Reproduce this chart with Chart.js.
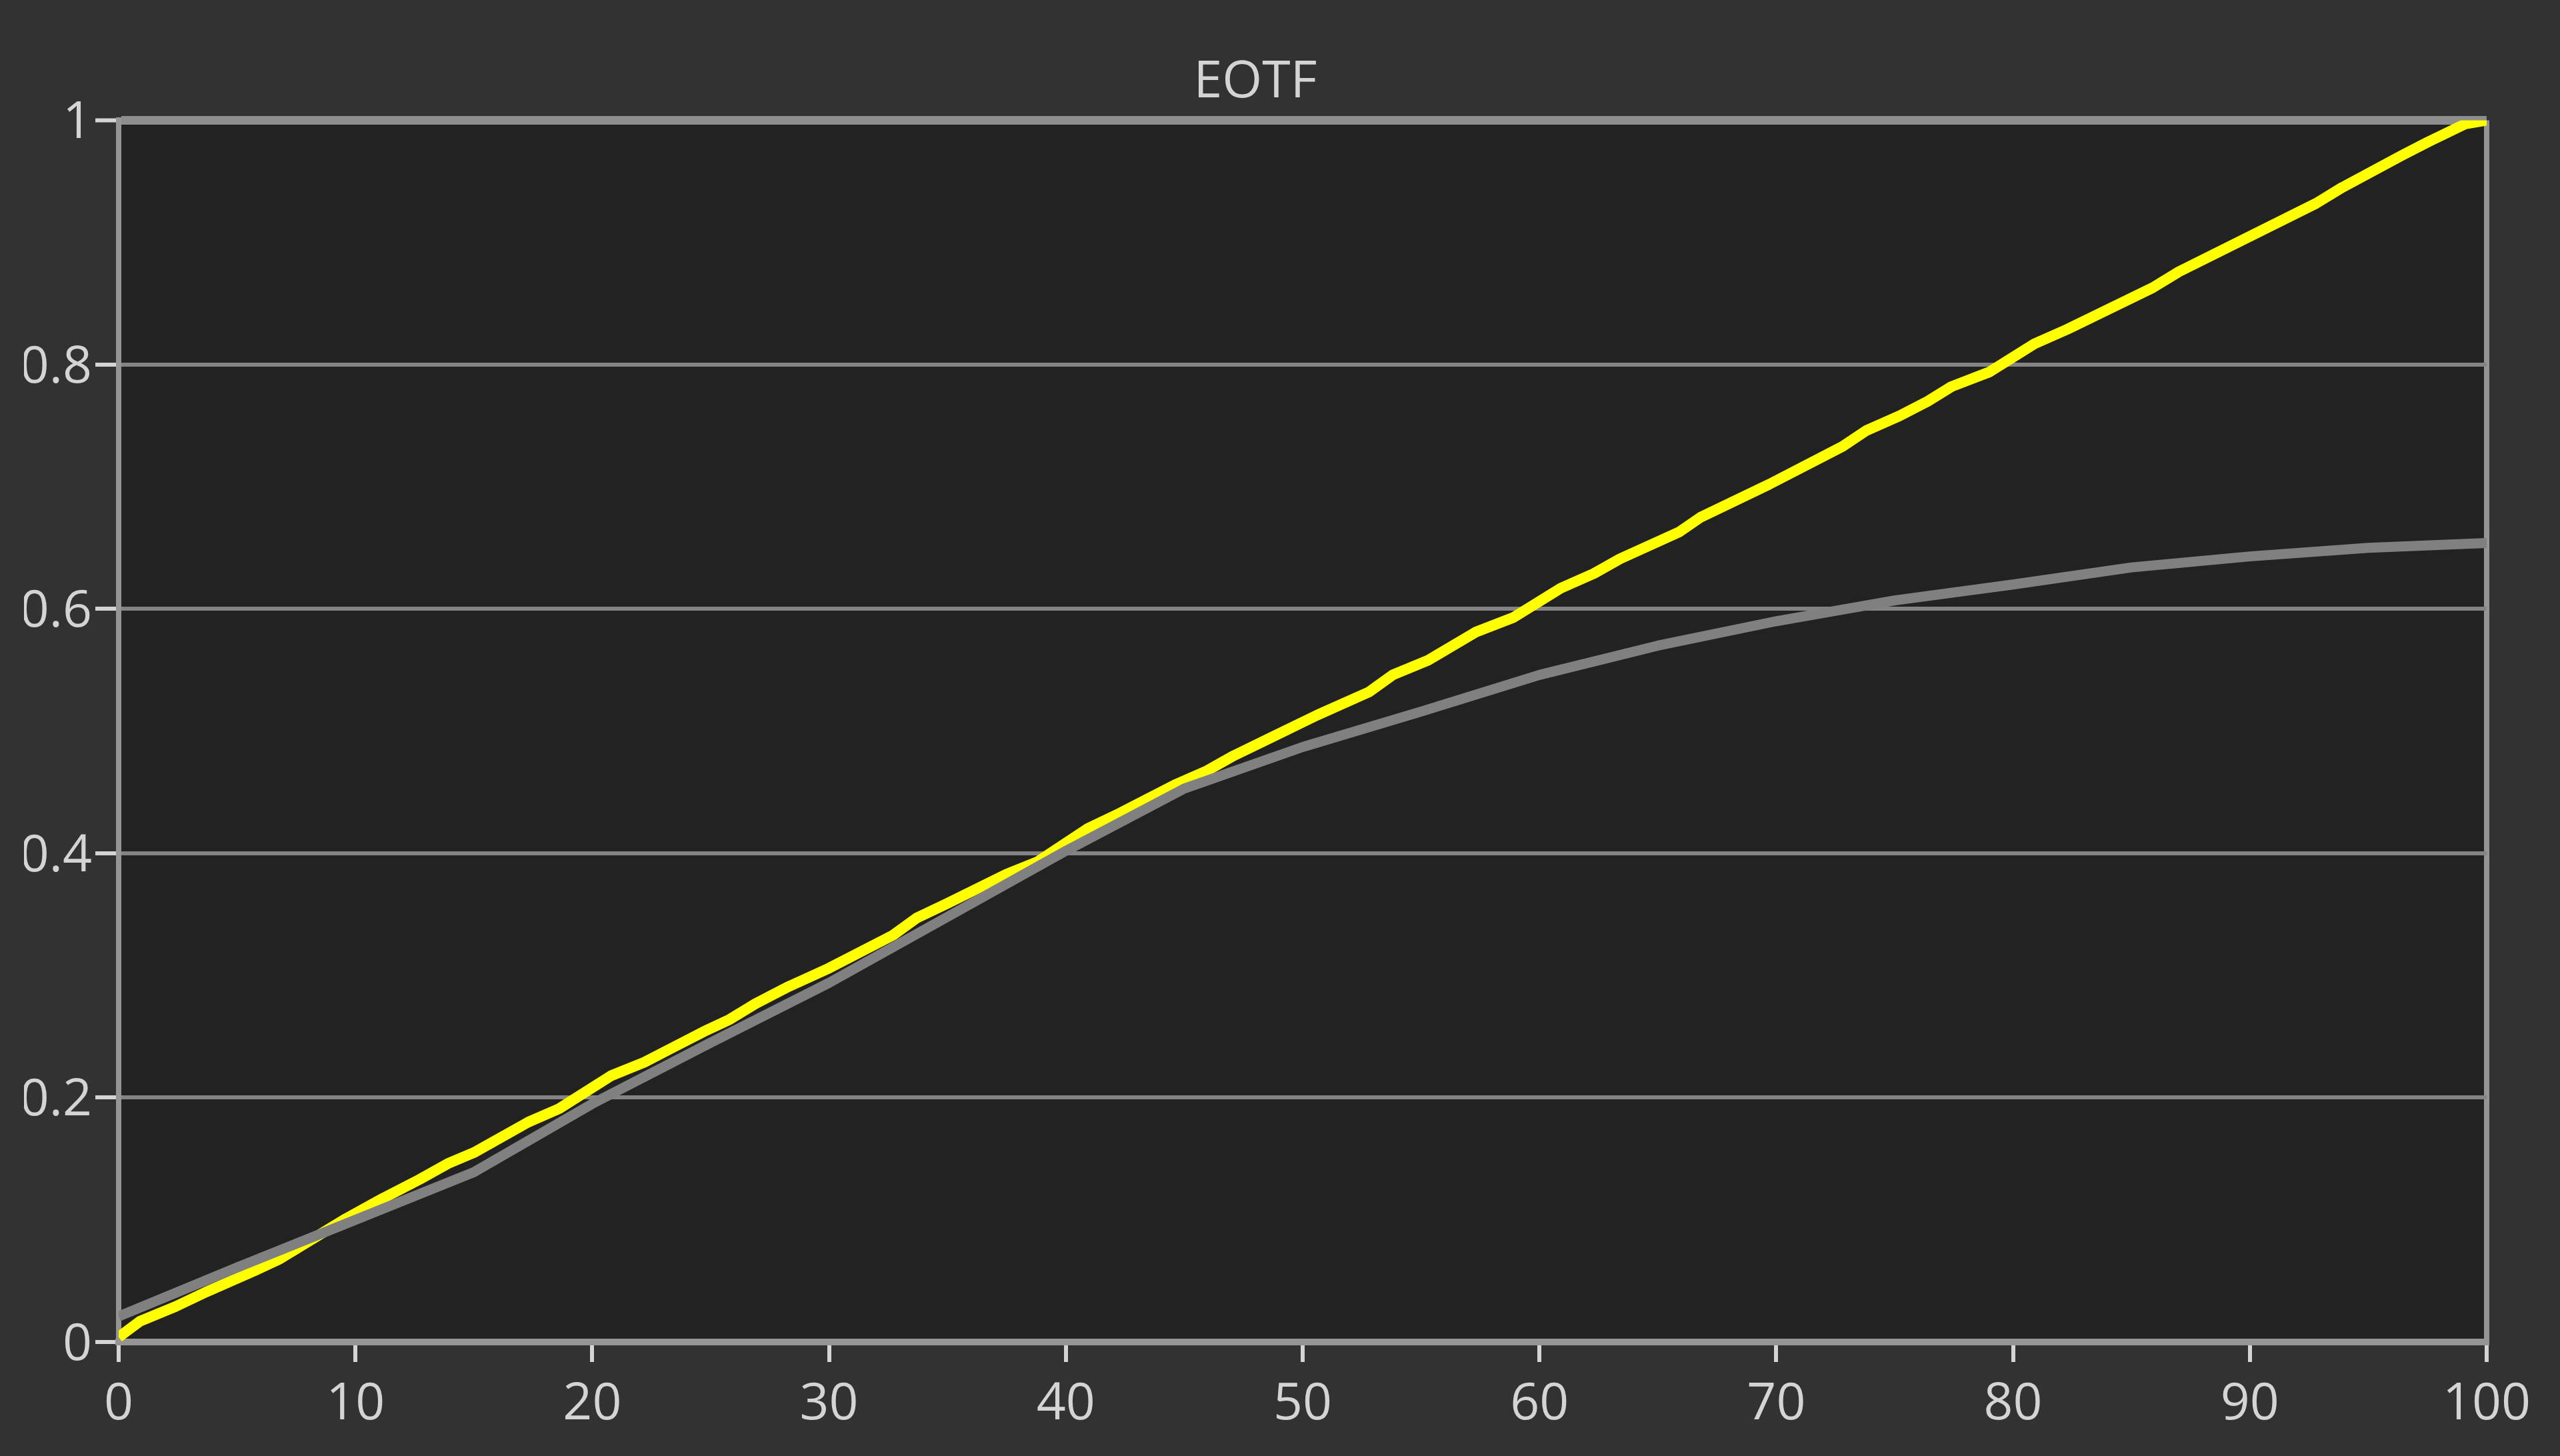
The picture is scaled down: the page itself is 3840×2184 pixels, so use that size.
<!DOCTYPE html>
<html>
<head>
<meta charset="utf-8">
<script src="https://cdn.jsdelivr.net/npm/chart.js@4.4.1/dist/chart.umd.min.js"></script>
<style>
html,body{margin:0;padding:0;background:#323232;}
canvas{display:block;}
</style>
</head>
<body>
<canvas id="c" width="3840" height="2184"></canvas>
<script>
// ---- data ----
const chartTitle = 'EOTF';
const xTickValues = [0, 10, 20, 30, 40, 50, 60, 70, 80, 90, 100];
const xTickLabels = ['0', '10', '20', '30', '40', '50', '60', '70', '80', '90', '100'];
const yTickValues = [0, 0.2, 0.4, 0.6, 0.8, 1];
const yTickLabels = ['0', '0.2', '0.4', '0.6', '0.8', '1'];

// grey target curve
const targetX = [0, 5, 10, 15, 20, 25, 30, 35, 40, 45, 50, 55, 60, 65, 70, 75, 80, 85, 90, 95, 100];
const targetY = [0.021, 0.061, 0.100, 0.139, 0.195, 0.245, 0.294, 0.348, 0.402, 0.453, 0.487, 0.516, 0.546, 0.570, 0.590, 0.607, 0.620, 0.634, 0.643, 0.650, 0.654];

// yellow measured curve
const measuredX = [0, 0.9, 2.4, 3.7, 5.7, 6.8, 9.6, 11.1, 12.7, 13.9, 15.0, 17.3, 18.6, 20.8, 22.2, 23.5, 24.7, 25.8, 26.9, 28.3, 30.0, 32.7, 33.7, 35.0, 37.5, 38.8, 40.9, 42.3, 44.6, 45.9, 47.1, 48.8, 50.6, 52.8, 53.8, 55.3, 57.3, 58.9, 60.9, 62.3, 63.4, 65.9, 66.8, 69.7, 72.8, 73.8, 75.2, 76.4, 77.4, 79.0, 80.9, 82.3, 85.9, 87.0, 92.8, 93.9, 96.4, 97.5, 99.1, 100];
const measuredY = [0.004, 0.017, 0.029, 0.041, 0.058, 0.068, 0.101, 0.117, 0.133, 0.146, 0.155, 0.180, 0.191, 0.218, 0.229, 0.242, 0.254, 0.264, 0.277, 0.291, 0.306, 0.333, 0.347, 0.359, 0.383, 0.393, 0.420, 0.433, 0.456, 0.467, 0.480, 0.496, 0.513, 0.532, 0.546, 0.558, 0.581, 0.593, 0.617, 0.629, 0.641, 0.663, 0.675, 0.702, 0.733, 0.746, 0.758, 0.770, 0.782, 0.794, 0.817, 0.829, 0.863, 0.876, 0.932, 0.945, 0.971, 0.982, 0.997, 1.0];

// ---- styles ----
const TEXT = '#d4d4d4';
const FONT = 'Open Sans';
const FS = 77;

const bgPlugin = {
  id: 'bg',
  beforeDraw(chart) {
    const {ctx, chartArea: a} = chart;
    ctx.save();
    ctx.fillStyle = '#323232';
    ctx.fillRect(0, 0, chart.width, chart.height);
    ctx.fillStyle = '#222222';
    ctx.fillRect(a.left, a.top, a.right - a.left, a.bottom - a.top);
    ctx.restore();
  }
};

const toPoints = (xs, ys) => xs.map((x, i) => ({x: x, y: ys[i]}));

new Chart(document.getElementById('c').getContext('2d'), {
  type: 'line',
  data: {
    datasets: [
      {
        label: 'Target',
        data: toPoints(targetX, targetY),
        borderColor: '#808080',
        borderWidth: 15,
        pointRadius: 0,
        tension: 0,
        borderJoinStyle: 'round',
        fill: false
      },
      {
        label: 'Measured',
        data: toPoints(measuredX, measuredY),
        borderColor: '#ffff00',
        borderWidth: 16,
        pointRadius: 0,
        tension: 0,
        borderJoinStyle: 'round',
        fill: false
      }
    ]
  },
  options: {
    responsive: false,
    devicePixelRatio: 1,
    animation: false,
    events: [],
    layout: {padding: {left: 36, right: 110, top: 0, bottom: 0}},
    plugins: {
      legend: {display: false},
      tooltip: {enabled: false},
      title: {
        display: true,
        text: chartTitle,
        color: TEXT,
        font: {family: FONT, size: FS, weight: 'normal', lineHeight: 1.2},
        padding: {top: 78, bottom: 10}
      }
    },
    scales: {
      x: {
        type: 'linear',
        min: 0,
        max: 100,
        afterBuildTicks: s => { s.ticks = xTickValues.map(v => ({value: v})); },
        afterFit: s => { s.height = 171; },
        grid: {
          color: c => (c.tick && c.tick.value === 100) ? '#959595' : 'rgba(0,0,0,0)',
          lineWidth: 8,
          tickColor: TEXT,
          tickLength: 30,
          tickWidth: 6
        },
        border: {color: '#959595', width: 10},
        ticks: {
          color: TEXT,
          font: {family: FONT, size: FS, lineHeight: 1.2},
          padding: 18,
          maxRotation: 0,
          autoSkip: false,
          callback: (v, i) => xTickLabels[i]
        }
      },
      y: {
        type: 'linear',
        min: 0,
        max: 1,
        afterBuildTicks: s => { s.ticks = yTickValues.map(v => ({value: v})); },
        afterFit: s => { s.width = 142; },
        grid: {
          color: c => (c.tick && c.tick.value === 1) ? '#8e8e8e' : '#848484',
          lineWidth: c => (c.tick && c.tick.value === 1) ? 13 : 6,
          tickColor: TEXT,
          tickLength: 35,
          tickWidth: 6
        },
        border: {color: '#959595', width: 8},
        ticks: {
          color: TEXT,
          font: {family: FONT, size: FS, lineHeight: 1.2},
          padding: 5,
          labelOffset: 5,
          autoSkip: false,
          callback: (v, i) => yTickLabels[i]
        }
      }
    }
  },
  plugins: [bgPlugin]
});
</script>
</body>
</html>
